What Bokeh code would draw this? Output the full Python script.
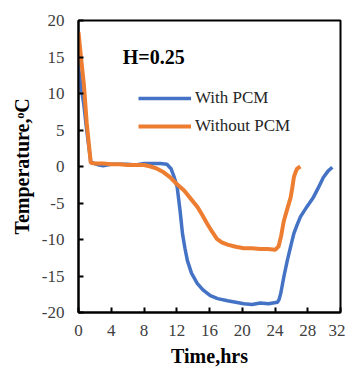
from bokeh.plotting import figure
from bokeh.models import FixedTicker, Legend, LegendItem, Label, Range1d
from bokeh.embed import file_html
from bokeh.resources import INLINE

# Wall temperature over time, H = 0.25
time_with_pcm = [0, 0.3, 0.65, 1.0, 1.5, 2.0, 2.5, 3, 4, 5, 6, 7, 8, 9, 10, 10.8,
                 11.3, 11.7, 12.05, 12.4, 12.7, 13.0, 13.3, 13.8, 14.5, 15.2, 16.1,
                 17, 18.2, 19.2, 20.2, 21.2, 22.2, 23.2, 24.3, 24.5, 24.7, 25.1,
                 25.5, 25.9, 26.3, 26.7, 27.1, 27.9, 28.7, 29.3, 29.9, 30.5, 31.0]
temp_with_pcm = [13.6, 11, 8.5, 5, 0.6, 0.4, 0.2, 0.1, 0.3, 0.3, 0.3, 0.2, 0.4, 0.4,
                 0.4, 0.3, -0.3, -1.5, -2.8, -6, -9.2, -11.2, -12.9, -14.6, -16,
                 -16.9, -17.7, -18.1, -18.4, -18.6, -18.8, -18.9, -18.7, -18.8,
                 -18.6, -18.2, -17.4, -15, -12.9, -11, -9.2, -8, -6.9, -5.5, -4.2,
                 -2.9, -1.5, -0.6, -0.1]

time_without_pcm = [0, 0.3, 0.65, 1.0, 1.5, 2, 3, 4, 5, 6, 7, 8, 8.8, 9.6, 10.4,
                    11.2, 12, 12.9, 13.7, 14.5, 15.1, 15.7, 16.3, 16.9, 17.5, 18.2,
                    19.2, 20.2, 21.2, 22.2, 23.1, 24.05, 24.45, 24.75, 25.07, 25.5,
                    25.9, 26.1, 26.3, 26.5, 26.7, 27.1]
temp_without_pcm = [18.4, 15, 11.3, 6, 0.5, 0.4, 0.4, 0.3, 0.3, 0.2, 0.2, 0.2, 0,
                    -0.3, -0.8, -1.5, -2.4, -3.3, -4.4, -5.5, -6.6, -7.8, -8.9,
                    -9.9, -10.4, -10.7, -11, -11.2, -11.2, -11.3, -11.3, -11.4,
                    -10.9, -9.5, -7.5, -5.8, -4.3, -3, -1.5, -0.8, -0.3, 0]

x_ticks = [0, 4, 8, 12, 16, 20, 24, 28, 32]
y_ticks = [-20, -15, -10, -5, 0, 5, 10, 15, 20]
y_tick_labels = {t: str(t) for t in y_ticks}
x_tick_labels = {t: str(t) for t in x_ticks}

series_names = ["With PCM", "Without PCM"]
series_colors = ["#4472C4", "#ED7D31"]
panel_title = "H=0.25"

SERIF = "Liberation Serif"

p = figure(width=345, height=374, output_backend="svg", toolbar_location=None,
           x_range=Range1d(0, 32), y_range=Range1d(-20, 20),
           min_border_left=78, min_border_right=5, min_border_top=20,
           min_border_bottom=62)
p.background_fill_color = "white"
p.border_fill_color = "white"
p.outline_line_color = "black"
p.outline_line_width = 2
p.xgrid.visible = False
p.ygrid.visible = False

for ax, ticks, labels in ((p.xaxis[0], x_ticks, x_tick_labels),
                          (p.yaxis[0], y_ticks, y_tick_labels)):
    ax.ticker = FixedTicker(ticks=ticks)
    ax.major_label_overrides = labels
    ax.axis_line_color = "black"
    ax.axis_line_width = 2
    ax.major_tick_in = 5
    ax.major_tick_out = 0
    ax.major_tick_line_color = "black"
    ax.major_tick_line_width = 2
    ax.minor_tick_line_color = None
    ax.major_label_text_font = SERIF
    ax.major_label_text_font_size = "17px"
    ax.major_label_text_color = "#404040"
    ax.axis_label_text_font = SERIF
    ax.axis_label_text_font_style = "bold"
    ax.axis_label_text_font_size = "20px"
    ax.axis_label_text_color = "black"

p.xaxis.axis_label = "Time,hrs"
p.yaxis.axis_label = "Temperature,\u1d52C"
p.xaxis.major_label_standoff = 12
p.xaxis.axis_label_standoff = 6
p.yaxis.major_label_standoff = 14
p.yaxis.axis_label_standoff = 6

r_with = p.line(time_with_pcm, temp_with_pcm, line_color=series_colors[0],
                line_width=3.5)
r_without = p.line(time_without_pcm, temp_without_pcm, line_color=series_colors[1],
                   line_width=4)

legend = Legend(items=[LegendItem(label=series_names[0], renderers=[r_with]),
                       LegendItem(label=series_names[1], renderers=[r_without])],
                location=(60, 176), orientation="vertical")
legend.border_line_alpha = 0
legend.background_fill_alpha = 0
legend.padding = 0
legend.margin = 0
legend.spacing = 8
legend.glyph_width = 53
legend.glyph_height = 20
legend.label_height = 20
legend.label_standoff = 4
legend.label_text_font = SERIF
legend.label_text_font_size = "17px"
legend.label_text_color = "#262626"
p.add_layout(legend, "center")

p.add_layout(Label(x=5.4, y=15, text=panel_title, text_font=SERIF,
                   text_font_style="bold", text_font_size="20px",
                   text_color="black", text_baseline="alphabetic"))

open("out.html", "w").write(file_html(p, INLINE))
